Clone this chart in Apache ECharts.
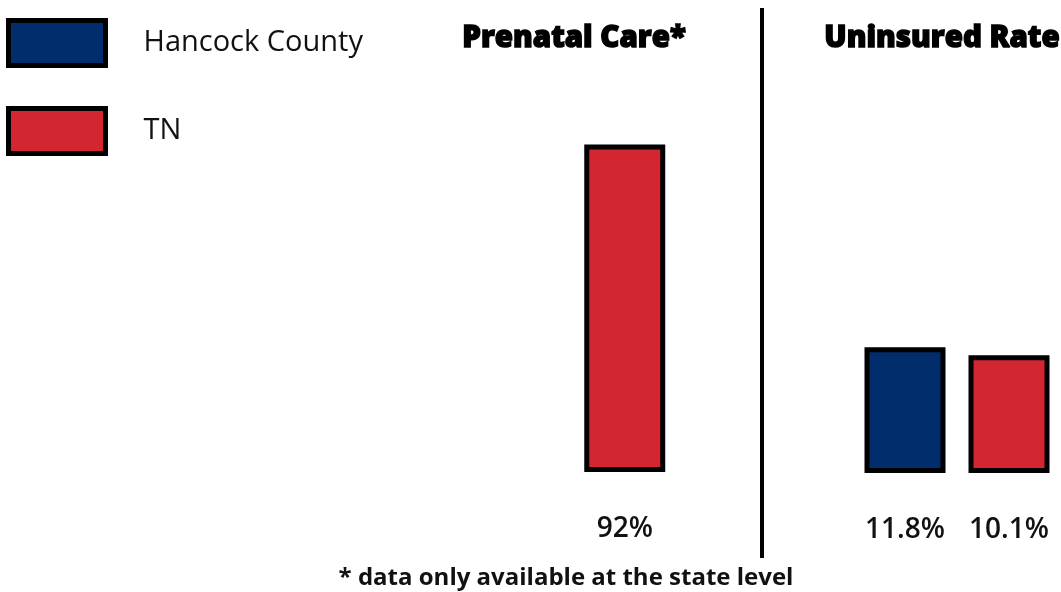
<!DOCTYPE html>
<html>
<head>
<meta charset="utf-8">
<script src="https://cdn.jsdelivr.net/npm/echarts@6/dist/echarts.min.js"></script>
<style>html,body{margin:0;padding:0;background:#fff;}#c{width:1061px;height:592px;}</style>
</head>
<body>
<div id="c"></div>
<script>
const categories = ['Hancock County', 'TN'];
const panelTitles = ['Prenatal Care*', 'Uninsured Rate'];
const prenatalHancock = ['-', '-'];
const prenatalTN = ['-', 92];
const uninsuredHancock = [11.8, '-'];
const uninsuredTN = ['-', 10.1];
const footnote = '* data only available at the state level';

const NAVY = '#022d6d', RED = '#d32630';
const chart = echarts.init(document.getElementById('c'));
const barItem = c => ({ color: c, borderColor: '#000', borderWidth: 5 });
const lbl = {
  show: true, position: 'bottom', distance: 43, formatter: '{c}%',
  fontFamily: 'Open Sans', fontWeight: 600, fontSize: 28, color: '#111'
};
function bar(name, data, idx, color) {
  return {
    name, type: 'bar', xAxisIndex: idx, yAxisIndex: idx, data,
    barWidth: 81, barGap: '-100%', itemStyle: barItem(color), label: lbl,
    emphasis: { disabled: true }, silent: true, animation: false
  };
}
const titleStyle = { fontFamily: 'Open Sans', fontWeight: 800, fontSize: 29.5, color: '#000',
  textBorderColor: '#000', textBorderWidth: 1.4 };
chart.setOption({
  animation: false,
  title: [
    { text: panelTitles[0], left: 574, top: 24, textAlign: 'center', padding: 0, textStyle: titleStyle },
    { text: panelTitles[1], left: 942, top: 24, textAlign: 'center', padding: 0, textStyle: titleStyle },
    { text: footnote, left: 566, top: 566, textAlign: 'center', padding: 0,
      textStyle: { fontFamily: 'Open Sans', fontWeight: 700, fontSize: 24, color: '#111' } }
  ],
  legend: {
    data: categories, orient: 'vertical', left: 6, top: 18, padding: 0,
    icon: 'rect', itemWidth: 97, itemHeight: 45, itemGap: 38, selectedMode: false,
    itemStyle: { borderColor: '#000', borderWidth: 5 },
    textStyle: { fontFamily: 'Open Sans', fontSize: 29, color: '#111', padding: [4, 0, 0, 33] }
  },
  grid: [
    { left: 468, width: 209, top: 116, bottom: 120 },
    { left: 853, width: 209, top: 121, bottom: 119 }
  ],
  xAxis: [
    { type: 'category', gridIndex: 0, data: categories, show: false },
    { type: 'category', gridIndex: 1, data: categories, show: false }
  ],
  yAxis: [
    { type: 'value', gridIndex: 0, min: 0, max: 100, show: false },
    { type: 'log', gridIndex: 1, min: 1, max: 1000, logBase: 10, show: false }
  ],
  graphic: [
    { type: 'line', shape: { x1: 762, y1: 8, x2: 762, y2: 558 }, style: { stroke: '#000', lineWidth: 4 } }
  ],
  series: [
    bar('Hancock County', prenatalHancock, 0, NAVY),
    bar('TN', prenatalTN, 0, RED),
    bar('Hancock County', uninsuredHancock, 1, NAVY),
    bar('TN', uninsuredTN, 1, RED)
  ]
});
</script>
</body>
</html>
